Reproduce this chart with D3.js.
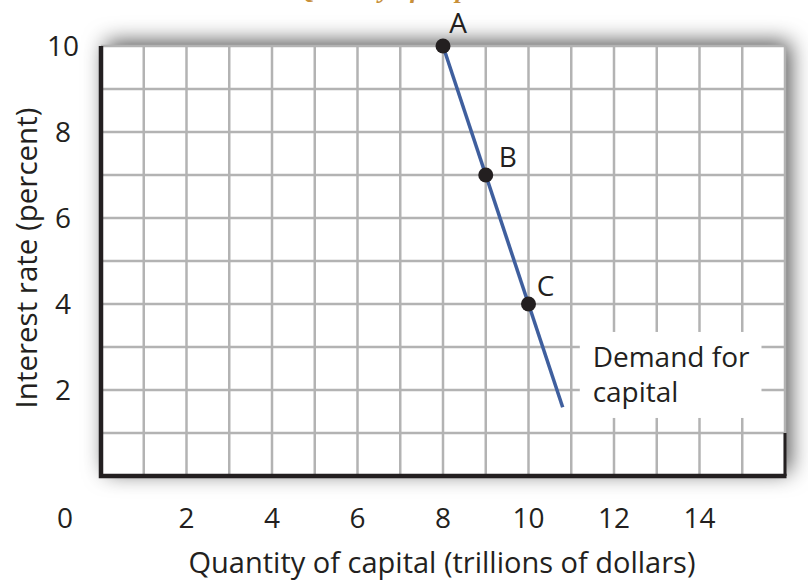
<!DOCTYPE html>
<html><head><meta charset="utf-8">
<script src="https://cdn.jsdelivr.net/npm/d3@7"></script>
<style>
html,body{margin:0;padding:0;background:#fff;}
svg{display:block;}
text{font-family:"Open Sans",sans-serif;fill:#231f20;}
</style></head>
<body>
<svg id="chart" width="808" height="580"></svg>
<script>
const titleText = "Quantity of Capital";
const xLabel = "Quantity of capital (trillions of dollars)";
const yLabel = "Interest rate (percent)";
const xTickValues = [2, 4, 6, 8, 10, 12, 14];
const yTickValues = [2, 4, 6, 8, 10];
const originLabel = "0";
const demandQuantity = [8, 10.8];
const demandRate = [10, 1.6];
const pointLabels = ["A", "B", "C"];
const pointQuantity = [8, 9, 10];
const pointRate = [10, 7, 4];
const curveLabel = ["Demand for", "capital"];

const svg = d3.select("#chart");
const x = d3.scaleLinear().domain([0, 16]).range([101, 785]);
const y = d3.scaleLinear().domain([0, 10]).range([476, 46]);

const defs = svg.append("defs");
const f = defs.append("filter").attr("id","shadow").attr("x","-20%").attr("y","-30%").attr("width","140%").attr("height","160%");
f.append("feDropShadow").attr("dx",5).attr("dy",-4).attr("stdDeviation",11).attr("flood-color","#000").attr("flood-opacity",0.7);

// title (cut off at top, as in the reference)
svg.append("text").attr("x", 400).attr("y", -2).attr("text-anchor","middle")
  .style("font-family","'Liberation Serif',serif").style("font-style","italic").style("font-weight","bold")
  .style("font-size","26px").style("fill","#c8903a").text(titleText);

// plot background with shadow
svg.append("rect").attr("x", x(0)).attr("y", y(10)).attr("width", x(16)-x(0)).attr("height", y(0)-y(10))
  .attr("fill","#fff").attr("filter","url(#shadow)");

const grid = svg.append("g").attr("stroke","#b3b3b3").attr("stroke-width",2.5);
grid.selectAll("line.v").data(d3.range(1,17)).join("line").attr("class","v")
  .attr("x1", d=>x(d)).attr("x2", d=>x(d)).attr("y1", y(0)).attr("y2", y(10));
grid.selectAll("line.h").data(d3.range(1,11)).join("line").attr("class","h")
  .attr("x1", x(0)).attr("x2", x(16)).attr("y1", d=>y(d)).attr("y2", d=>y(d));

// white box behind curve label
svg.append("rect").attr("x", x(11.2)).attr("y", y(3.35)).attr("width", x(15.45)-x(11.2)).attr("height", y(1.35)-y(3.35)).attr("fill","#fff");

// axes
svg.append("line").attr("x1", x(16)).attr("x2", x(16)).attr("y1", y(1)).attr("y2", y(0)).attr("stroke","#231f20").attr("stroke-width",3);
svg.append("path").attr("d", `M${x(0)},${y(10)} L${x(0)},${y(0)} L${x(16)+1.5},${y(0)}`)
  .attr("fill","none").attr("stroke","#231f20").attr("stroke-width",4.5);

// demand line
svg.append("line").attr("x1", x(demandQuantity[0])).attr("y1", y(demandRate[0]))
  .attr("x2", x(demandQuantity[1])).attr("y2", y(demandRate[1]))
  .attr("stroke","#3f5f9e").attr("stroke-width",3.5);

// points
svg.selectAll("circle.pt").data(pointLabels).join("circle").attr("class","pt")
  .attr("cx", (d,i)=>x(pointQuantity[i])).attr("cy", (d,i)=>y(pointRate[i])).attr("r", 7.5).attr("fill","#231f20");
const labelOffsets = [[15,-13],[22,-8],[17,-8]];
svg.selectAll("text.pl").data(pointLabels).join("text").attr("class","pl")
  .attr("x", (d,i)=>x(pointQuantity[i])+labelOffsets[i][0]).attr("y", (d,i)=>y(pointRate[i])+labelOffsets[i][1])
  .attr("text-anchor","middle").style("font-size","28px").text(d=>d);

// curve label
svg.selectAll("text.cl").data(curveLabel).join("text").attr("class","cl")
  .attr("x", x(11.5)).attr("y", (d,i)=>367+i*35).style("font-size","28px").text(d=>d);

// ticks
svg.selectAll("text.xt").data(xTickValues).join("text").attr("class","xt")
  .attr("x", d=>x(d)).attr("y", 528).attr("text-anchor","middle").style("font-size","28px").text(d=>d);
svg.append("text").attr("x", 65).attr("y", 528).attr("text-anchor","middle").style("font-size","28px").text(originLabel);
svg.selectAll("text.yt").data(yTickValues).join("text").attr("class","yt")
  .attr("x", 63).attr("y", d=>y(d)+10).attr("text-anchor","middle").style("font-size","28px").text(d=>d);

// axis labels
svg.append("text").attr("x", 442).attr("y", 573).attr("text-anchor","middle").style("font-size","29px").text(xLabel);
svg.append("text").attr("transform","translate(37,258) rotate(-90)").attr("text-anchor","middle").style("font-size","29.5px").text(yLabel);
</script>
</body></html>
